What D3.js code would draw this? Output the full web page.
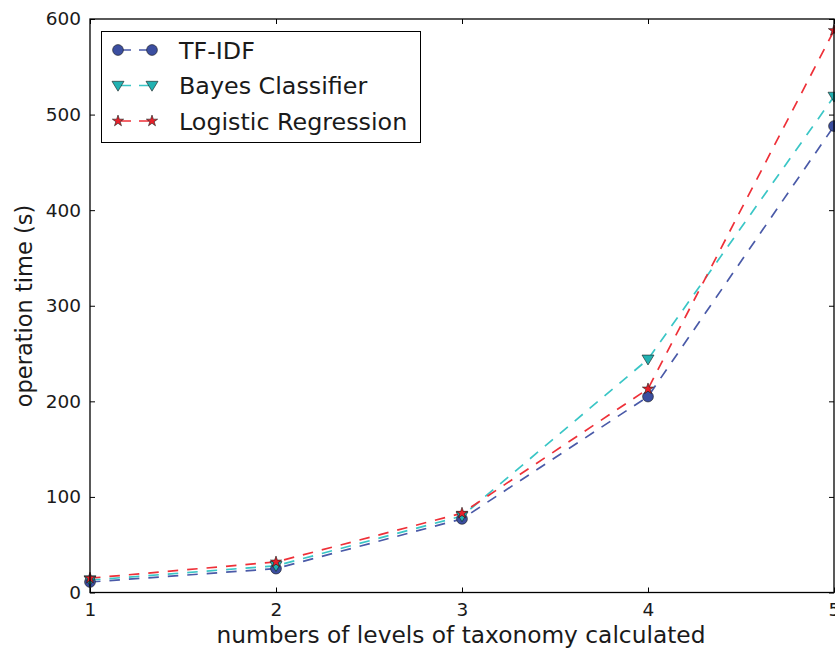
<!DOCTYPE html>
<html><head><meta charset="utf-8">
<script src="https://cdn.jsdelivr.net/npm/d3@7"></script>
<style>body{margin:0;background:#fff}svg{display:block}text{font-family:"DejaVu Sans",sans-serif;fill:#1a1a1a}</style>
</head><body><svg id="c" width="835" height="653"></svg>
<script>
const levels = [1, 2, 3, 4, 5];
const tfidf = [11, 25, 77, 205, 488];
const bayes = [13, 28, 80, 244, 519];
const logistic = [15, 32, 83, 213, 588];
const seriesNames = ["TF-IDF", "Bayes Classifier", "Logistic Regression"];
const yTicks = [0, 100, 200, 300, 400, 500, 600];

const svg = d3.select("#c");
const L = 90, R = 834, T = 19, B = 592.5;
const x = d3.scaleLinear().domain([1, 5]).range([L, R]);
const y = d3.scaleLinear().domain([0, 600]).range([B, T]);

const series = [
  {name: seriesNames[0], vals: tfidf, color: "#3b4ea0", line: "#4a5aa8", marker: "circle"},
  {name: seriesNames[1], vals: bayes, color: "#22b2b2", line: "#3ac6c6", marker: "tri"},
  {name: seriesNames[2], vals: logistic, color: "#e8202a", line: "#ee3038", marker: "star"}
];

// axes with inward ticks
const ax = d3.axisBottom(x).tickValues(levels).tickFormat(d3.format("d")).tickSizeInner(-5).tickSizeOuter(0).tickPadding(10.5);
svg.append("g").attr("transform", `translate(0,${B})`).call(ax);
const ay = d3.axisLeft(y).tickValues(yTicks).tickSizeInner(-5).tickSizeOuter(0).tickPadding(9);
svg.append("g").attr("transform", `translate(${L},0)`).call(ay);
const axTop = d3.axisTop(x).tickValues(levels).tickSizeInner(-5).tickSizeOuter(0).tickFormat("");
svg.append("g").attr("transform", `translate(0,${T})`).call(axTop);
const ayR = d3.axisRight(y).tickValues(yTicks).tickSizeInner(-5).tickSizeOuter(0).tickFormat("");
svg.append("g").attr("transform", `translate(${R},0)`).call(ayR);
svg.selectAll(".domain").remove();
svg.selectAll(".tick line").attr("stroke", "#000").attr("stroke-width", 1);
svg.selectAll(".tick text").style("font-size", "18.5px").style("font-family", "DejaVu Sans").attr("fill", "#1a1a1a");

function markerPath(type, s) {
  if (type === "circle") return d3.symbol(d3.symbolCircle, s * s * Math.PI)();
  if (type === "tri") return `M${-s},${-s*0.7}L${s},${-s*0.7}L0,${s*0.95}Z`;
  return d3.symbol(d3.symbolStar, s * s * 1.1)();
}

const line = d3.line().x((d, i) => x(levels[i])).y(d => y(d));
series.forEach(sr => {
  svg.append("path").datum(sr.vals).attr("d", line).attr("fill", "none")
    .attr("stroke", sr.line).attr("stroke-width", 1.7).attr("stroke-dasharray", "10.5,9");
});
series.forEach(sr => {
  svg.selectAll(null).data(sr.vals).enter().append("path")
    .attr("d", markerPath(sr.marker, sr.marker === "circle" ? 5.4 : 6))
    .attr("transform", (d, i) => `translate(${x(levels[i])},${y(d)})`)
    .attr("fill", sr.color).attr("stroke", "#1a1a1a").attr("stroke-width", 0.6);
});

// frame
svg.append("rect").attr("x", L).attr("y", T).attr("width", R - L).attr("height", B - T)
  .attr("fill", "none").attr("stroke", "#000").attr("stroke-width", 1.3);

// legend
const lg = svg.append("g");
lg.append("rect").attr("x", 101.5).attr("y", 31.5).attr("width", 319).attr("height", 111)
  .attr("fill", "#fff").attr("stroke", "#000").attr("stroke-width", 1);
series.forEach((sr, i) => {
  const yy = 50 + i * 35.5;
  lg.append("line").attr("x1", 118).attr("x2", 152).attr("y1", yy).attr("y2", yy)
    .attr("stroke", sr.line).attr("stroke-width", 1.7).attr("stroke-dasharray", "10,8").attr("stroke-dashoffset", -3);
  [118, 152].forEach(mx => lg.append("path").attr("d", markerPath(sr.marker, sr.marker === "circle" ? 5.4 : 6))
    .attr("transform", `translate(${mx},${yy})`).attr("fill", sr.color).attr("stroke", "#1a1a1a").attr("stroke-width", 0.6));
  lg.append("text").attr("x", 179).attr("y", yy).attr("dy", "0.36em").style("font-size", "23.8px").text(sr.name);
});

// axis labels
svg.append("text").attr("x", 461).attr("y", 643).attr("text-anchor", "middle")
  .style("font-size", "23.3px").text("numbers of levels of taxonomy calculated");
svg.append("text").attr("transform", `translate(32,306) rotate(-90)`).attr("text-anchor", "middle")
  .style("font-size", "22.5px").text("operation time (s)");
</script></body></html>
